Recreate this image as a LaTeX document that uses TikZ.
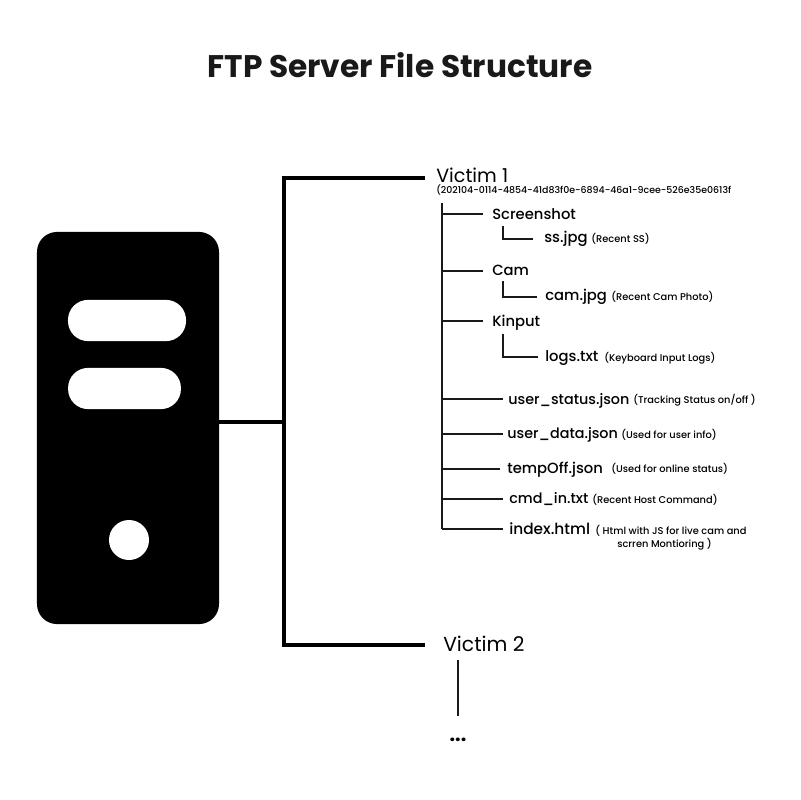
\documentclass[tikz,border=0pt]{standalone}
\usepackage{fontspec}
\setmainfont{Poppins}
\newfontfamily\mediumfont{Poppins Medium}
\usetikzlibrary{calc}

\begin{document}
\begin{tikzpicture}[
  x=0.025cm, y=-0.025cm,
  title/.style={font=\fontsize{22.2}{26}\selectfont\bfseries, text=black!90},
  victim/.style={font=\fontsize{14}{16}\selectfont, anchor=base west, inner sep=0pt},
  folder/.style={font=\mediumfont\fontsize{10.5}{12}\selectfont, anchor=base west, inner sep=0pt},
  file/.style={font=\mediumfont\fontsize{10.5}{12}\selectfont, anchor=base west, inner sep=0pt},
  jsonfile/.style={font=\mediumfont\fontsize{10.2}{12}\selectfont, anchor=base west, inner sep=0pt},
  note/.style={font=\mediumfont\fontsize{7}{8}\selectfont, anchor=base west, inner sep=0pt},
  server/.style={draw=none, fill=black, rounded corners=0.5cm, inner sep=0pt},
  pill/.style={fill=white, rounded corners=0.5cm, inner sep=0pt},
  led/.style={circle, fill=white, inner sep=0pt, minimum size=1cm},
  trunk/.style={line width=2.5pt, black},
  branch/.style={line width=1.8pt, black!90},
]
\path[use as bounding box, fill=white] (0,0) rectangle (800,800);
\node[title] (heading) at (400,65) {FTP Server File Structure};
% server box
\node[server, minimum width=4.55cm, minimum height=9.8cm] (tower) at (128,428) {};
\node[pill, minimum width=2.95cm, minimum height=1.03cm] (slota) at (127,320.5) {};
\node[pill, minimum width=2.82cm, minimum height=1.03cm] (slotb) at (124.5,388.5) {};
\node[led] (power) at (129,540) {};
% victims
\node[victim, font=\fontsize{13.6}{16}\selectfont] (victima) at (436,183) {Victim 1};
\node[font=\mediumfont\fontsize{6.7}{8}\selectfont, anchor=base west, inner sep=0pt] (victimid) at (436,194) {(202104-0114-4854-41d83f0e-6894-46a1-9cee-526e35e0613f};
\node[victim, font=\fontsize{14.4}{16}\selectfont] (victimb) at (443,651) {Victim 2};
\node[font=\fontsize{14}{16}\selectfont\bfseries, inner sep=0pt] (more) at (458,740) {...};
% folders and files
\node[folder] (screenshot) at (492,220) {Screenshot};
\node[file] (ssjpg) at (544,242) {ss.jpg};
\node[note] (ssnote) at (591,242) {(Recent SS)};
\node[folder] (cam) at (492,275) {Cam};
\node[file] (camjpg) at (545,300) {cam.jpg};
\node[note] (camnote) at (611,300) {(Recent Cam Photo)};
\node[folder] (kinput) at (492,326) {Kinput};
\node[file] (logstxt) at (545,361) {logs.txt};
\node[note] (logsnote) at (604,361) {(Keyboard Input Logs)};
\node[jsonfile] (userstatus) at (508,404) {user\_status.json};
\node[note] (statusnote) at (633,403) {(Tracking Status on/off )};
\node[jsonfile] (userdata) at (507,438) {user\_data.json};
\node[note] (datanote) at (621,438) {(Used for user info)};
\node[file] (tempoff) at (507,473) {tempOff.json};
\node[note] (tempnote) at (611,472) {(Used for online status)};
\node[jsonfile] (cmdin) at (509,503) {cmd\_in.txt};
\node[note] (cmdnote) at (592,503) {(Recent Host Command)};
\node[file, font=\mediumfont\fontsize{10.9}{12}\selectfont] (indexhtml) at (509,534) {index.html};
\node[note] (indexnote) at (595,534) {( Html with JS for live cam and};
\node[note] (indexnoteb) at (617,547) {scrren Montioring )};
% joints
\coordinate (joint) at (284,422);
\coordinate (jointa) at (284,178);
\coordinate (jointb) at (284,645);
\coordinate (spinetop) at (442,203);
\coordinate (spinebot) at (442,529);
\coordinate (sa) at (442,214);
\coordinate (sb) at (442,271);
\coordinate (sc) at (442,321);
\coordinate (sd) at (442,399);
\coordinate (se) at (442,434);
\coordinate (sf) at (442,469);
\coordinate (sg) at (442,499);
\coordinate (ssa) at (503,226);
\coordinate (ssb) at (503,239);
\coordinate (sca) at (503,281);
\coordinate (scb) at (503,297);
\coordinate (ska) at (503,334);
\coordinate (skb) at (503,357);
\coordinate (tail) at (458,660);
% connectors
\draw[trunk] (tower.east |- joint) -- (joint);
\draw[trunk, line cap=rect] (jointa) -- (jointb);
\draw[trunk] (jointa) -- ([xshift=-11*0.025cm]victima.west |- jointa);
\draw[trunk] (jointb) -- ([xshift=-18*0.025cm]victimb.west |- jointb);
\draw[branch] (spinetop) -- (spinebot);
\draw[branch] (sa) -- ([xshift=-9*0.025cm]screenshot.west |- sa);
\draw[branch] (sb) -- ([xshift=-9*0.025cm]cam.west |- sb);
\draw[branch] (sc) -- ([xshift=-9*0.025cm]kinput.west |- sc);
\draw[branch] (sd) -- ([xshift=-5*0.025cm]userstatus.west |- sd);
\draw[branch] (se) -- ([xshift=-4*0.025cm]userdata.west |- se);
\draw[branch] (sf) -- ([xshift=-7*0.025cm]tempoff.west |- sf);
\draw[branch] (sg) -- ([xshift=-6*0.025cm]cmdin.west |- sg);
\draw[branch] (spinebot) -- ([xshift=-6*0.025cm]indexhtml.west |- spinebot);
\draw[branch] (ssa) -- (ssb) -- ([xshift=-11*0.025cm]ssjpg.west |- ssb);
\draw[branch] (sca) -- (scb) -- ([xshift=-8*0.025cm]camjpg.west |- scb);
\draw[branch] (ska) -- (skb) -- ([xshift=-7*0.025cm]logstxt.west |- skb);
\draw[branch] (tail) -- (tail |- 0,716);
\end{tikzpicture}
\end{document}
